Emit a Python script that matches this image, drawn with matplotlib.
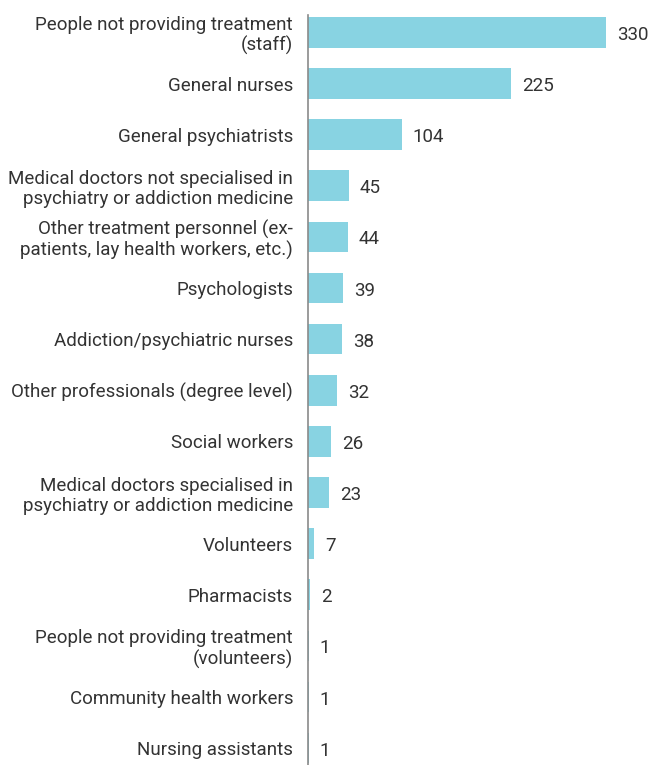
import matplotlib
matplotlib.use("Agg")
import matplotlib.pyplot as plt
import matplotlib.transforms as mtransforms

categories = [
    "People not providing treatment\n(staff)",
    "General nurses",
    "General psychiatrists",
    "Medical doctors not specialised in\npsychiatry or addiction medicine",
    "Other treatment personnel (ex-\npatients, lay health workers, etc.)",
    "Psychologists",
    "Addiction/psychiatric nurses",
    "Other professionals (degree level)",
    "Social workers",
    "Medical doctors specialised in\npsychiatry or addiction medicine",
    "Volunteers",
    "Pharmacists",
    "People not providing treatment\n(volunteers)",
    "Community health workers",
    "Nursing assistants",
]
values = [330, 225, 104, 45, 44, 39, 38, 32, 26, 23, 7, 2, 1, 1, 1]

plt.rcParams['font.family'] = ['Roboto', 'DejaVu Sans']

fig = plt.figure(figsize=(6.52, 7.65), dpi=100)
ax = fig.add_axes([308/652, 0, 325/652, 750/765])

shift = mtransforms.ScaledTranslation(0, -2.5/100, fig.dpi_scale_trans)

y = list(range(len(values)))
ax.barh(y, values, height=0.6, color="#88d3e2", zorder=2)
for yi, v in zip(y, values):
    ax.text(v + 11/0.903, yi, str(v), va="center", ha="left", fontsize=13.5,
            color="#333333", clip_on=False, transform=ax.transData + shift)

ax.set_yticks(y)
ax.set_yticklabels(categories, fontsize=13.5, color="#333333", linespacing=1.15)
for lbl in ax.get_yticklabels():
    lbl.set_transform(lbl.get_transform() + shift)
ax.tick_params(axis="y", length=0, pad=10.8)
ax.set_xticks([])
ax.set_xlim(0, 360)
ax.set_ylim(len(values) - 1 + 0.33, -0.34)
for s in ["top", "right", "bottom"]:
    ax.spines[s].set_visible(False)
ax.spines["left"].set_color("#8a8a8a")
ax.spines["left"].set_linewidth(1.2)
ax.spines["left"].set_zorder(3)

fig.savefig("out.png", dpi=100)
